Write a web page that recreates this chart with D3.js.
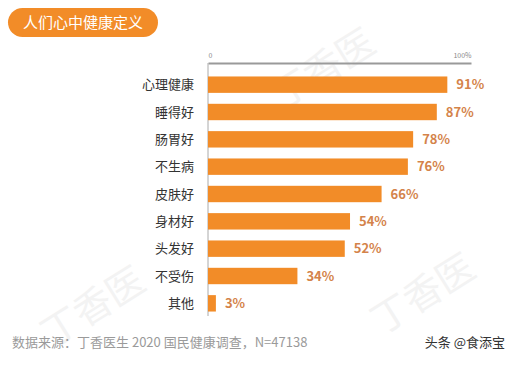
<!DOCTYPE html>
<html>
<head>
<meta charset="utf-8">
<script src="https://d3js.org/d3.v7.min.js"></script>
<style>
    body { margin: 0; background: #fff; }
    text { font-family: "Noto Sans CJK SC", "Noto Sans", sans-serif; }
</style>
</head>
<body>
<svg id="chart"></svg>
<script>
    // data
    var categories = ["心理健康", "睡得好", "肠胃好", "不生病", "皮肤好", "身材好", "头发好", "不受伤", "其他"];
    var values = [91, 87, 78, 76, 66, 54, 52, 34, 3];
    var tickValues = [0, 100];
    var tickLabels = ["0", "100%"];

    var width = 517, height = 374;
    var orange = "#f28c28";

    var svg = d3.select("#chart")
        .attr("width", width)
        .attr("height", height);

    svg.append("rect").attr("width", width).attr("height", height).attr("fill", "#fff");

    // faint watermark
    var wm = svg.append("g").attr("fill", "#f3f3f3").style("font-size", "38px");
    [[330, 80], [100, 318], [430, 305]].forEach(function (p) {
        wm.append("text")
            .attr("transform", "translate(" + p[0] + "," + p[1] + ") rotate(-32)")
            .attr("text-anchor", "middle")
            .text("丁香医");
    });

    // title pill
    svg.append("rect")
        .attr("x", 8).attr("y", 8)
        .attr("width", 150).attr("height", 29)
        .attr("rx", 14.5)
        .attr("fill", orange);
    svg.append("text")
        .attr("x", 83).attr("y", 28)
        .attr("text-anchor", "middle")
        .attr("fill", "#fff")
        .style("font-size", "15px")
        .text("人们心中健康定义");

    var x = d3.scaleLinear().domain([0, 100]).range([208, 471]);
    var y = d3.scaleBand().domain(categories).range([71, 317]).paddingInner(0.4).paddingOuter(0.2);

    // top axis
    var axis = svg.append("g")
        .attr("transform", "translate(0,63)")
        .call(d3.axisTop(x).tickValues(tickValues).tickSize(0).tickPadding(5)
            .tickFormat(function (d, i) { return tickLabels[i]; }));
    axis.select(".domain").attr("stroke", "#9a9a9a").attr("stroke-width", 2);
    axis.selectAll("text")
        .attr("fill", "#888")
        .style("font-size", "7px")
        .attr("text-anchor", function (d, i) { return i == 0 ? "start" : "end"; });

    // vertical baseline
    svg.append("line")
        .attr("x1", x(0)).attr("x2", x(0))
        .attr("y1", 63).attr("y2", 316)
        .attr("stroke", "#aaa").attr("stroke-width", 1);

    // bars
    svg.append("g").selectAll("rect")
        .data(values)
        .enter()
        .append("rect")
        .attr("x", x(0))
        .attr("y", function (d, i) { return y(categories[i]); })
        .attr("width", function (d) { return x(d) - x(0); })
        .attr("height", y.bandwidth())
        .attr("fill", orange);

    // value labels
    svg.append("g").selectAll("text")
        .data(values)
        .enter()
        .append("text")
        .attr("x", function (d) { return x(d) + 9; })
        .attr("y", function (d, i) { return y(categories[i]) + y.bandwidth() / 2; })
        .attr("dy", "0.36em")
        .attr("fill", "#d4834a")
        .style("font-size", "13px")
        .style("font-weight", "bold")
        .text(function (d) { return d + "%"; });

    // category labels
    svg.append("g").selectAll("text")
        .data(categories)
        .enter()
        .append("text")
        .attr("x", 194)
        .attr("y", function (d) { return y(d) + y.bandwidth() / 2; })
        .attr("dy", "0.36em")
        .attr("text-anchor", "end")
        .attr("fill", "#333")
        .style("font-size", "13px")
        .text(function (d) { return d; });

    // footer
    svg.append("text")
        .attr("x", 12).attr("y", 347)
        .attr("fill", "#9a9a9a")
        .style("font-size", "13px")
        .text("数据来源：丁香医生 2020 国民健康调查，N=47138");
    svg.append("text")
        .attr("x", 505).attr("y", 347)
        .attr("text-anchor", "end")
        .attr("fill", "#333")
        .style("font-size", "13px")
        .text("头条 @食添宝");
</script>
</body>
</html>
